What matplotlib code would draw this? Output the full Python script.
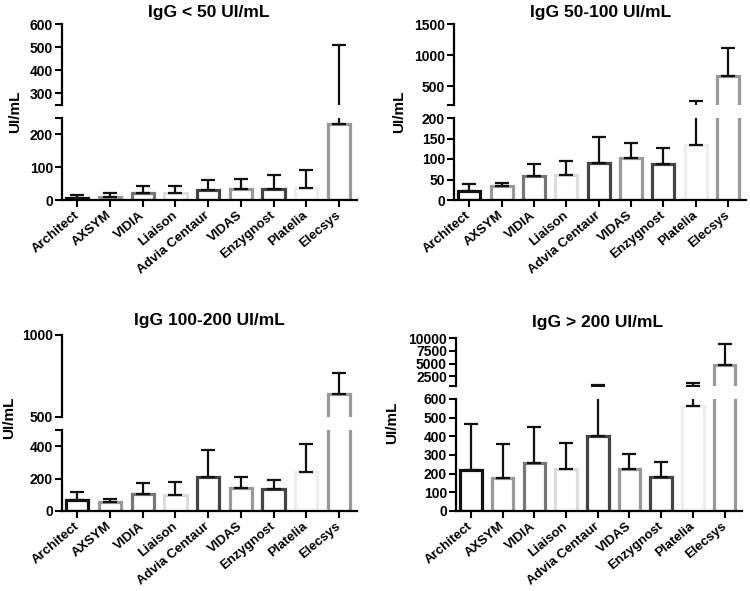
import numpy as np
import matplotlib
matplotlib.use('Agg')
import matplotlib.pyplot as plt

plt.rcParams['font.family'] = ['Liberation Sans', 'DejaVu Sans']
plt.rcParams['font.weight'] = 'bold'

methods = ['Architect', 'AXSYM', 'VIDIA', 'Liaison', 'Advia Centaur',
           'VIDAS', 'Enzygnost', 'Platelia', 'Elecsys']
edge_colors = ['#111111', '#999999', '#777777', '#dddddd', '#444444',
               '#999999', '#444444', '#eeeeee', '#999999']

# mean and top of the error bar (UI/mL)
lt50_mean = [7, 10, 20, 20, 29, 33, 35, 38, 232]
lt50_top = [14, 20, 43, 43, 62, 64, 77, 91, 510]

g50_100_mean = [23, 34, 59, 62, 91, 103, 89, 135, 660]
g50_100_top = [38, 42, 89, 94, 154, 140, 127, 260, 1117]

g100_200_mean = [66, 56, 103, 101, 212, 140, 134, 241, 643]
g100_200_top = [115, 76, 171, 179, 375, 208, 192, 416, 769]

gt200_mean = [221, 175, 257, 225, 400, 225, 184, 562, 4680]
gt200_top = [468, 359, 448, 364, 750, 304, 264, 1200, 8900]

titles = ['IgG < 50 UI/mL', 'IgG 50-100 UI/mL', 'IgG 100-200 UI/mL', 'IgG > 200 UI/mL']


def style_axis(ax):
    for s in ['top', 'right']:
        ax.spines[s].set_visible(False)
    ax.spines['left'].set_linewidth(1.6)
    ax.spines['bottom'].set_linewidth(1.6)
    ax.tick_params(axis='y', direction='out', length=5, width=1.5,
                   labelsize=10, pad=1.5)
    ax.tick_params(axis='x', direction='out', length=5, width=1.5,
                   labelsize=9.5, pad=5)


def draw_bars(ax, mean, top, floor=None):
    x = np.arange(len(methods))
    mean = np.array(mean, dtype=float)
    top = np.array(top, dtype=float)
    if floor is not None:
        # in the upper segment leave out marks that lie wholly below it
        mean_show = np.where(mean > floor, mean, np.nan)
        keep = top > floor
    else:
        mean_show = mean
        keep = np.ones(len(x), dtype=bool)
    ax.bar(x, mean_show, width=0.68, facecolor='white', edgecolor=edge_colors,
           linewidth=2.3, zorder=2)
    err = top - mean
    ax.errorbar(x[keep], mean[keep], yerr=[np.zeros(keep.sum()), err[keep]],
                fmt='none', ecolor='#111111', elinewidth=1.6, capsize=5,
                capthick=1.6, zorder=3)
    ax.set_xlim(-0.47, 8.55)


def panel(fig, left, width, low_box, up_box, mean, top,
          low_lim, low_ticks, low_labels, up_lim, up_ticks, up_labels):
    ax_lo = fig.add_axes([left, low_box[0], width, low_box[1]])
    ax_up = fig.add_axes([left, up_box[0], width, up_box[1]])
    draw_bars(ax_lo, mean, top)
    draw_bars(ax_up, mean, top, floor=up_lim[0])
    for ax in (ax_lo, ax_up):
        style_axis(ax)
    ax_lo.set_ylim(*low_lim)
    ax_lo.set_yticks(low_ticks)
    ax_lo.set_yticklabels(low_labels)
    ax_lo.set_xticks(np.arange(len(methods)))
    ax_lo.set_xticklabels(methods, rotation=40, ha='right', va='center',
                          rotation_mode='anchor')
    ax_up.set_ylim(*up_lim)
    ax_up.set_yticks(up_ticks)
    ax_up.set_yticklabels(up_labels)
    ax_up.spines['bottom'].set_visible(False)
    ax_up.set_xticks([])
    return ax_lo, ax_up


fig = plt.figure(figsize=(7.5, 5.91), dpi=100)
H = 591.0
W = 750.0


def vbox(top_px, bottom_px):
    return (1 - bottom_px / H, (bottom_px - top_px) / H)


# top-left
panel(fig, 62 / W, 295 / W, vbox(118, 200), vbox(24, 105),
      lt50_mean, lt50_top,
      (0, 250), [0, 100, 200, 250], ['0', '100', '200', ''],
      (250, 600), [250, 300, 400, 500, 600], ['', '300', '400', '500', '600'])
# top-right
panel(fig, 454 / W, 292 / W, vbox(118, 200), vbox(24, 105),
      g50_100_mean, g50_100_top,
      (0, 200), [0, 50, 100, 150, 200], ['0', '50', '100', '150', '200'],
      (200, 1500), [200, 500, 1000, 1500], ['', '500', '1000', '1500'])
# bottom-left
panel(fig, 62 / W, 295 / W, vbox(430, 511), vbox(335, 417),
      g100_200_mean, g100_200_top,
      (0, 500), [0, 200, 400, 500], ['0', '200', '400', ''],
      (500, 1000), [500, 1000], ['500', '1000'])
# bottom-right
panel(fig, 456 / W, 286 / W, vbox(399, 511), vbox(338, 386),
      gt200_mean, gt200_top,
      (0, 600), [0, 100, 200, 300, 400, 500, 600],
      ['0', '100', '200', '300', '400', '500', '600'],
      (600, 10000), [600, 2500, 5000, 7500, 10000],
      ['', '2500', '5000', '7500', '10000'])

# titles
title_pos = [(209, 13), (601, 13), (209, 320), (598, 322)]
for (tx, ty), t in zip(title_pos, titles):
    fig.text(tx / W, 1 - ty / H, t, ha='center', va='center',
             fontsize=12.5, fontweight='bold')

# y labels
ylab_pos = [(15, 112), (399, 112), (9, 418), (392, 423)]
for lx, ly in ylab_pos:
    fig.text(lx / W, 1 - ly / H, 'UI/mL', rotation=90, ha='center',
             va='center', fontsize=11, fontweight='bold')

fig.savefig('out.png', dpi=100, facecolor='w')
plt.close()
